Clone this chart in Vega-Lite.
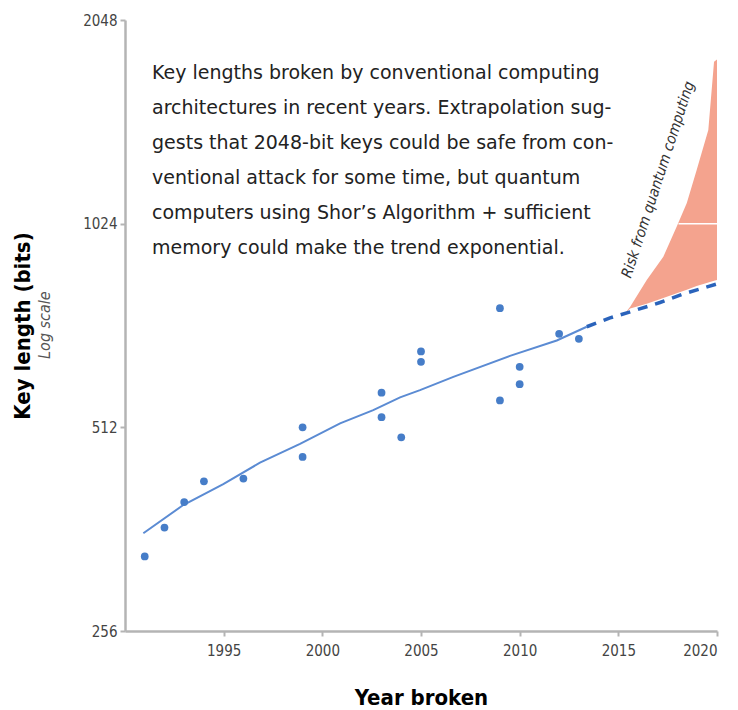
{
  "$schema": "https://vega.github.io/schema/vega-lite/v6.json",
  "width": 592,
  "height": 611,
  "autosize": {"type": "none"},
  "padding": {"left": 125, "top": 20, "right": 21, "bottom": 79},
  "background": "white",
  "config": {"view": {"stroke": null}, "axis": {"grid": false}},
  "datasets": {
    "points": [
      {"year": 1991, "bits": 330},
      {"year": 1992, "bits": 364},
      {"year": 1993, "bits": 397},
      {"year": 1994, "bits": 426},
      {"year": 1996, "bits": 430},
      {"year": 1999, "bits": 512},
      {"year": 1999, "bits": 463},
      {"year": 2003, "bits": 576},
      {"year": 2003, "bits": 530},
      {"year": 2004, "bits": 495},
      {"year": 2005, "bits": 663},
      {"year": 2005, "bits": 640},
      {"year": 2009, "bits": 768},
      {"year": 2009, "bits": 561},
      {"year": 2010, "bits": 629},
      {"year": 2010, "bits": 593},
      {"year": 2012, "bits": 704},
      {"year": 2013, "bits": 692}
    ],
    "trend": [
      {"year": 1990.93, "bits": 357},
      {"year": 1992.95, "bits": 393},
      {"year": 1994.98, "bits": 422},
      {"year": 1996.84, "bits": 454},
      {"year": 1998.87, "bits": 484},
      {"year": 2000.9, "bits": 519},
      {"year": 2002.58, "bits": 543},
      {"year": 2003.94, "bits": 567},
      {"year": 2004.95, "bits": 581},
      {"year": 2006.64, "bits": 608},
      {"year": 2009.51, "bits": 653},
      {"year": 2011.88, "bits": 688},
      {"year": 2013.4, "bits": 721}
    ],
    "proj": [
      {"year": 2013.4, "bits": 721},
      {"year": 2014.58, "bits": 743},
      {"year": 2015.76, "bits": 761},
      {"year": 2017.11, "bits": 783},
      {"year": 2018.29, "bits": 806},
      {"year": 2020, "bits": 834}
    ],
    "risk": [
      {"year": 2015.42, "bits": 760, "bits2": 758},
      {"year": 2015.6, "bits": 772, "bits2": 767},
      {"year": 2016.44, "bits": 845, "bits2": 780},
      {"year": 2017.28, "bits": 915, "bits2": 795},
      {"year": 2017.96, "bits": 1014, "bits2": 808},
      {"year": 2018.47, "bits": 1099, "bits2": 818},
      {"year": 2018.97, "bits": 1229, "bits2": 828},
      {"year": 2019.56, "bits": 1409, "bits2": 838},
      {"year": 2019.85, "bits": 1777, "bits2": 843},
      {"year": 2020, "bits": 1790, "bits2": 845}
    ],
    "gridmark": [
      {"year": 2018.05, "year2": 2020, "bits": 1024}
    ],
    "note": [
      {"year": 1991.37, "bits": 1675, "label": "Key lengths broken by conventional computing\narchitectures in recent years.  Extrapolation sug-\ngests that 2048-bit keys could be safe from con-\nventional attack for some time, but quantum\ncomputers using Shor’s Algorithm + sufficient\nmemory could make the trend exponential."}
    ],
    "risklabel": [
      {"year": 2017.0, "bits": 1190, "label": "Risk from quantum computing"}
    ],
    "scalelabel": [
      {"year": 1985.95, "bits": 725, "label": "Log scale"}
    ]
  },
  "encoding": {
    "x": {
      "field": "year",
      "type": "quantitative",
      "scale": {"domain": [1990, 2020], "nice": false, "zero": false},
      "axis": {
        "values": [1995, 2000, 2005, 2010, 2015, 2020],
        "format": "d",
        "title": "Year broken",
        "titleFont": "DejaVu Sans Condensed",
        "titleFontWeight": "bold",
        "titleFontSize": 22,
        "titleColor": "#000000",
        "titleX": 296,
        "titleY": 66,
        "titleBaseline": "middle",
        "titleAlign": "center",
        "labelFont": "DejaVu Sans Condensed",
        "labelFontSize": 15,
        "labelColor": "#444444",
        "labelPadding": 7,
        "tickSize": 5,
        "tickWidth": 2,
        "tickColor": "#b4b4b4",
        "domainColor": "#b4b4b4",
        "domainWidth": 2.5,
        "grid": false
      }
    },
    "y": {
      "field": "bits",
      "type": "quantitative",
      "scale": {"type": "log", "base": 2, "domain": [256, 2048], "nice": false},
      "axis": {
        "values": [256, 512, 1024, 2048],
        "format": "d",
        "title": "Key length (bits)",
        "titleFont": "DejaVu Sans Condensed",
        "titleFontWeight": "bold",
        "titleFontSize": 22,
        "titleColor": "#000000",
        "titleAngle": 270,
        "titleX": -103,
        "titleY": 305.5,
        "titleBaseline": "middle",
        "titleAlign": "center",
        "labelFont": "DejaVu Sans Condensed",
        "labelFontSize": 15,
        "labelColor": "#444444",
        "labelPadding": 3,
        "tickSize": 5,
        "tickWidth": 2,
        "tickColor": "#b4b4b4",
        "domainColor": "#b4b4b4",
        "domainWidth": 2.5,
        "grid": false
      }
    }
  },
  "layer": [
    {
      "data": {"name": "risk"},
      "mark": {"type": "area", "color": "#f4a38e", "opacity": 1},
      "encoding": {"y2": {"field": "bits2"}}
    },
    {
      "data": {"name": "gridmark"},
      "mark": {"type": "rule", "color": "#ffffff", "strokeWidth": 1.5},
      "encoding": {"x2": {"field": "year2"}}
    },
    {
      "data": {"name": "trend"},
      "mark": {"type": "line", "color": "#5b8bd3", "strokeWidth": 2},
      "encoding": {}
    },
    {
      "data": {"name": "proj"},
      "mark": {"type": "line", "color": "#2a63bb", "strokeWidth": 3.5, "strokeDash": [10, 8]},
      "encoding": {}
    },
    {
      "data": {"name": "points"},
      "mark": {"type": "point", "filled": true, "shape": "circle", "size": 60, "color": "#467dc8", "opacity": 1},
      "encoding": {}
    },
    {
      "data": {"name": "note"},
      "mark": {"type": "text", "align": "left", "baseline": "alphabetic", "font": "DejaVu Sans", "fontSize": 19, "color": "#222222", "lineBreak": "\n", "lineHeight": 35},
      "encoding": {"text": {"field": "label"}}
    },
    {
      "data": {"name": "risklabel"},
      "mark": {"type": "text", "align": "center", "baseline": "middle", "angle": 288, "font": "DejaVu Sans Condensed", "fontStyle": "italic", "fontSize": 15, "color": "#333333"},
      "encoding": {"text": {"field": "label"}}
    },
    {
      "data": {"name": "scalelabel"},
      "mark": {"type": "text", "align": "center", "baseline": "middle", "angle": 270, "font": "DejaVu Sans Condensed", "fontStyle": "italic", "fontSize": 16, "color": "#555555"},
      "encoding": {"text": {"field": "label"}}
    }
  ]
}
